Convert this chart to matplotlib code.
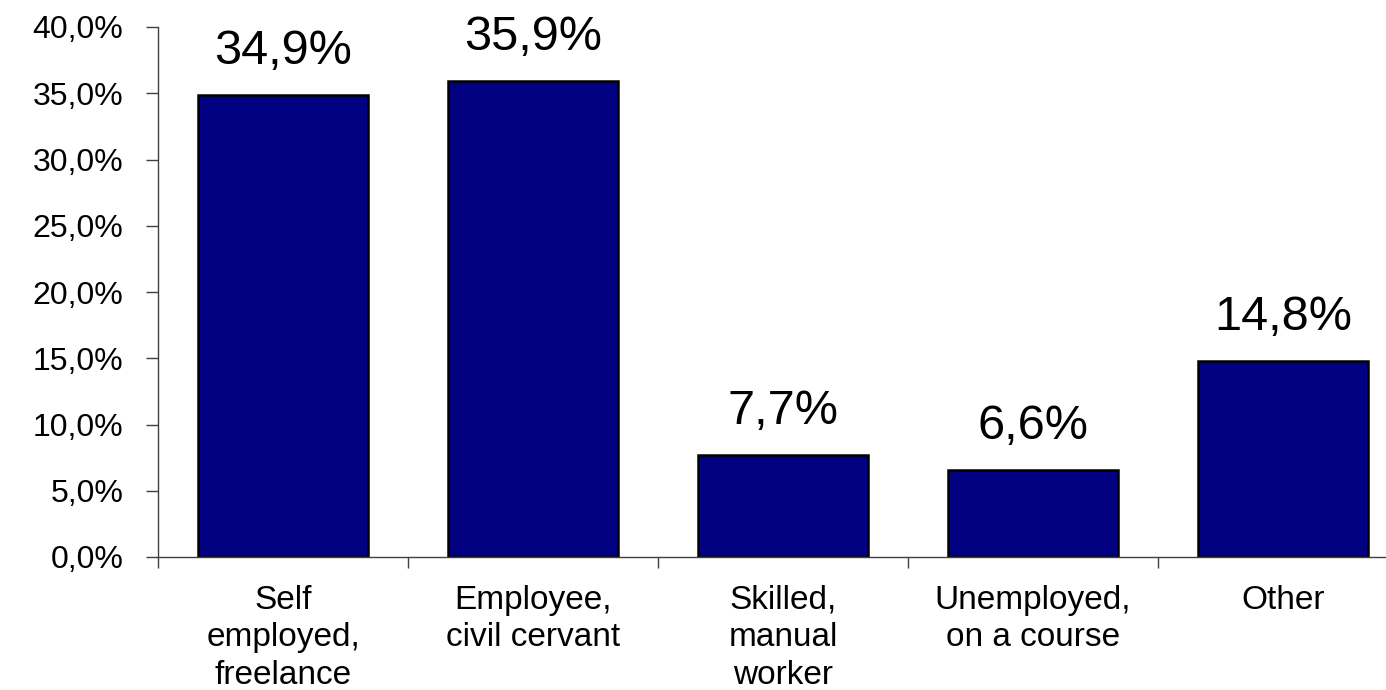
import numpy as np
import matplotlib
matplotlib.use("Agg")
import matplotlib.pyplot as plt
from matplotlib.ticker import FixedLocator, FuncFormatter

# Anteile nach Berufsgruppe (in Prozent)
categories = ["Self\nemployed,\nfreelance", "Employee,\ncivil cervant",
              "Skilled,\nmanual\nworker", "Unemployed,\non a course", "Other"]
values = [34.9, 35.9, 7.7, 6.6, 14.8]
y_ticks = [0, 5, 10, 15, 20, 25, 30, 35, 40]

plt.rcParams['font.family'] = ['Liberation Sans', 'DejaVu Sans']

fig = plt.figure(figsize=(13.86, 6.9), dpi=100)
ax = fig.add_axes([158 / 1386, 133 / 690, 1250 / 1386, 530 / 690])

x = np.arange(len(categories))
bars = ax.bar(x, values, width=0.68, color='#000080', edgecolor='black', linewidth=1.8)

# Werte über den Balken
for b, v in zip(bars, values):
    ax.annotate(f"{v:.1f}%".replace('.', ','),
                xy=(b.get_x() + b.get_width() / 2, v),
                xytext=(0, 15), textcoords='offset points',
                ha='center', va='bottom', fontsize=35)

ax.set_xlim(-0.5, len(categories) - 0.5)
ax.set_ylim(0, 40)

ax.yaxis.set_major_locator(FixedLocator(y_ticks))
ax.yaxis.set_major_formatter(FuncFormatter(lambda v, p: f"{v:.1f}%".replace('.', ',')))
ax.tick_params(axis='y', length=9, width=1, color='#404040', labelsize=23, pad=16)

# Kategorien als Beschriftung, Trennstriche zwischen den Gruppen
ax.set_xticks(x)
ax.set_xticklabels(categories, fontsize=24, linespacing=1.28)
ax.tick_params(axis='x', which='major', length=0, pad=20)
ax.set_xticks(np.arange(len(categories) + 1) - 0.5, minor=True)
ax.tick_params(axis='x', which='minor', length=8, width=1, color='#404040')

for side in ['top', 'right']:
    ax.spines[side].set_visible(False)
for side in ['left', 'bottom']:
    ax.spines[side].set_color('#404040')
    ax.spines[side].set_linewidth(1)

fig.savefig('out.png', dpi=100)
